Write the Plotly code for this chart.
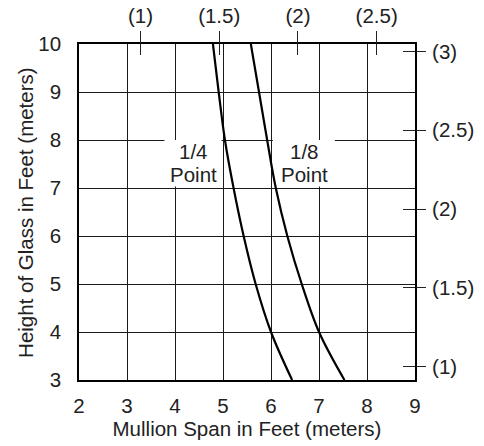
import plotly.graph_objects as go

# Glass height (ft) and the maximum mullion span (ft) for each deflection limit
glass_height_ft = [10, 9, 8, 7, 6, 5, 4, 3]
span_quarter_point = [4.79, 4.91, 5.04, 5.22, 5.43, 5.68, 6.00, 6.44]
span_eighth_point = [5.58, 5.75, 5.92, 6.10, 6.34, 6.64, 7.00, 7.53]

# Metric reference ticks (meters), shown on the top and right edges
span_m_ticks = [1, 1.5, 2, 2.5]
height_m_ticks = [1, 1.5, 2, 2.5, 3]
FT_PER_M = 3.28084

x_ticks = [2, 3, 4, 5, 6, 7, 8, 9]
y_ticks = [3, 4, 5, 6, 7, 8, 9, 10]

FONT = "Liberation Sans, Arial, Helvetica, sans-serif"
TXT = "#222222"
FS = 20.5

def m_label(v):
    return f"({v:g})"

fig = go.Figure()

curve = dict(mode="lines", line=dict(color="black", width=2.2, shape="spline", smoothing=1.0),
             hoverinfo="skip", showlegend=False)
fig.add_trace(go.Scatter(x=span_quarter_point, y=glass_height_ft, **curve))
fig.add_trace(go.Scatter(x=span_eighth_point, y=glass_height_ft, **curve))

# empty traces so the metric overlay axes are drawn
for xa, ya in [("x2", "y"), ("x3", "y"), ("x", "y2"), ("x", "y3")]:
    fig.add_trace(go.Scatter(x=[None], y=[None], xaxis=xa, yaxis=ya,
                             showlegend=False, hoverinfo="skip"))

base_font = dict(family=FONT, size=FS, color=TXT)
GRID = "#1a1a1a"

fig.update_layout(
    width=484, height=446,
    margin=dict(l=79, r=69, t=44, b=66),
    paper_bgcolor="white", plot_bgcolor="white",
    font=base_font,
    xaxis=dict(range=[2, 9], tickvals=x_ticks, showgrid=True, gridcolor=GRID, gridwidth=1,
               showline=True, linecolor="black", linewidth=1.5, mirror=True, ticks="",
               ticklabelstandoff=7, zeroline=False, automargin=False,
               title=dict(text="Mullion Span in Feet (meters)", font=base_font, standoff=3)),
    yaxis=dict(range=[3, 10], tickvals=y_ticks, showgrid=True, gridcolor=GRID, gridwidth=1,
               showline=True, linecolor="black", linewidth=1.5, mirror=True, ticks="",
               ticklabelstandoff=12, zeroline=False, automargin=False),
    xaxis2=dict(range=[2, 9], overlaying="x", side="top", anchor="y", automargin=False,
                tickvals=[v * FT_PER_M for v in span_m_ticks],
                ticktext=[m_label(v) for v in span_m_ticks],
                ticks="outside", ticklen=12, tickwidth=1, tickcolor="#222222",
                showgrid=False, showline=False, zeroline=False, tickfont=base_font),
    xaxis3=dict(range=[2, 9], overlaying="x", side="top", anchor="y", automargin=False,
                tickvals=[v * FT_PER_M for v in span_m_ticks],
                ticks="inside", ticklen=11, tickwidth=1, tickcolor="#222222",
                showticklabels=False, showgrid=False, showline=False, zeroline=False),
    yaxis2=dict(range=[3, 10], overlaying="y", side="right", anchor="x", automargin=False,
                tickvals=[v * FT_PER_M for v in height_m_ticks],
                ticktext=[m_label(v) for v in height_m_ticks],
                ticks="outside", ticklen=10, tickwidth=1, tickcolor="#222222",
                ticklabelstandoff=2,
                showgrid=False, showline=False, zeroline=False, tickfont=base_font),
    yaxis3=dict(range=[3, 10], overlaying="y", side="right", anchor="x", automargin=False,
                tickvals=[v * FT_PER_M for v in height_m_ticks],
                ticks="inside", ticklen=12, tickwidth=1, tickcolor="#222222",
                showticklabels=False, showgrid=False, showline=False, zeroline=False),
)

# vertical axis title, placed a little closer to the tick labels
fig.add_annotation(x=-0.161, y=0.5, xref="paper", yref="paper", xanchor="center",
                   yanchor="middle", textangle=-90, showarrow=False,
                   text="Height of Glass in Feet (meters)", font=base_font)

# white panels behind the curve labels (above the grid, below the curves)
for x0, x1 in [(3.78, 4.97), (6.04, 7.33)]:
    fig.add_shape(type="rect", xref="x", yref="y", x0=x0, x1=x1, y0=7.03, y1=8.0,
                  fillcolor="white", line=dict(width=0), layer="between")

for x, fraction in [(4.375, "1/4"), (6.70, "1/8")]:
    fig.add_annotation(x=x, y=7.77, xref="x", yref="y", text=fraction, showarrow=False,
                       font=base_font)
    fig.add_annotation(x=x, y=7.28, xref="x", yref="y", text="Point", showarrow=False,
                       font=base_font)

fig.write_html("out.html")
